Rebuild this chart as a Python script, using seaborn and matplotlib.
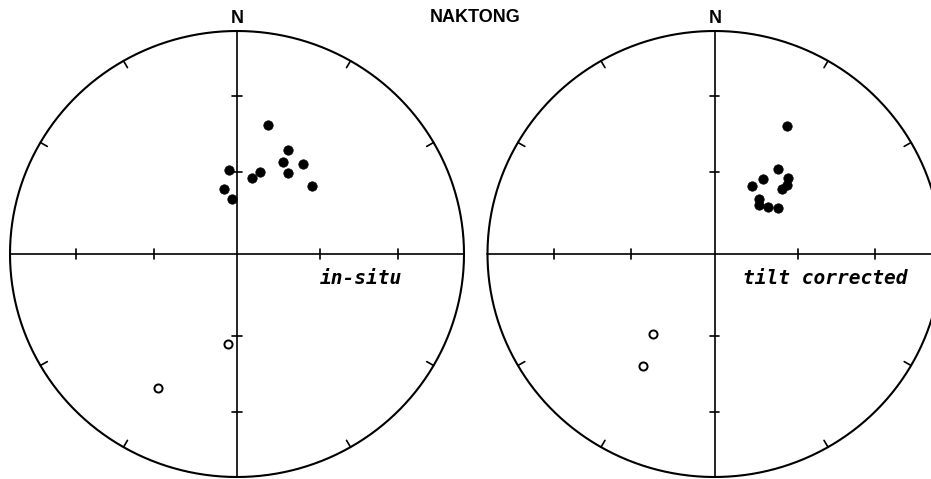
import numpy as np
import pandas as pd
import matplotlib
matplotlib.use("Agg")
import matplotlib.pyplot as plt
import seaborn as sns

# Palaeomagnetic site-mean directions, Naktong area
# declination (deg), inclination (deg); negative inclination = upper hemisphere
insitu_dec = [13.4, 25.6, 26.2, 35.6, 31.4, 47.1, 15.4, 10.8, 354.9, 348.9, 354.7, 185.4, 210.0]
insitu_inc = [40.4, 47.1, 52.0, 48.9, 54.8, 52.9, 58.8, 61.5, 58.8, 65.8, 69.8, -56.5, -31.2]

tilt_dec = [29.0, 36.2, 32.6, 43.5, 28.5, 45.8, 45.6, 38.4, 41.7, 48.2, 53.4, 216.9, 212.1]
tilt_inc = [34.8, 51.0, 57.2, 51.0, 61.8, 53.4, 56.0, 64.2, 66.0, 64.0, 61.4, -52.8, -40.6]

panel_labels = ["in-situ", "tilt corrected"]
title = "NAKTONG"
north_label = "N"

# inclination rings marked on the N-S and E-W diameters
ring_incs = [30, 60]


def equal_area(dec, inc):
    dec = np.radians(np.asarray(dec, float))
    inc = np.asarray(inc, float)
    r = np.sqrt(2.0) * np.sin(np.radians(90.0 - np.abs(inc)) / 2.0)
    return r * np.sin(dec), r * np.cos(dec)


def draw_net(ax):
    t = np.linspace(0, 2 * np.pi, 721)
    ax.plot(np.sin(t), np.cos(t), color="black", lw=1.5, solid_capstyle="round")
    ax.plot([-1, 1], [0, 0], color="black", lw=1.2)
    ax.plot([0, 0], [-1, 1], color="black", lw=1.2)
    # azimuth ticks every 30 degrees on the primitive
    for az in range(30, 360, 30):
        if az % 90 == 0:
            continue
        a = np.radians(az)
        ax.plot([0.965 * np.sin(a), np.sin(a)], [0.965 * np.cos(a), np.cos(a)],
                color="black", lw=1.2)
    # inclination ticks along the diameters
    h = 0.022
    for inc in ring_incs:
        r = np.sqrt(2.0) * np.sin(np.radians(90 - inc) / 2.0)
        for s in (-1, 1):
            ax.plot([s * r, s * r], [-h, h], color="black", lw=1.2)
            ax.plot([-h, h], [s * r, s * r], color="black", lw=1.2)


def draw_points(ax, dec, inc):
    x, y = equal_area(dec, inc)
    df = pd.DataFrame({"x": x, "y": y, "lower": np.asarray(inc) > 0})
    sns.scatterplot(data=df[df.lower], x="x", y="y", ax=ax, color="black",
                    s=46, edgecolor="black", linewidth=0.5, legend=False, zorder=3)
    sns.scatterplot(data=df[~df.lower], x="x", y="y", ax=ax, facecolor="white",
                    s=34, edgecolor="black", linewidth=1.4, legend=False, zorder=3)


sns.set_theme(style="white")
plt.rcParams["font.family"] = ["DejaVu Sans"]
plt.rcParams["text.color"] = "black"

W, H = 931, 479
fig = plt.figure(figsize=(W / 100, H / 100), dpi=100)
fig.patch.set_facecolor("white")

RX, RY = 227.0, 223.0
CY = 254.0
LIM = 1.1
centers = [237.0, 714.5]
datasets = [(insitu_dec, insitu_inc), (tilt_dec, tilt_inc)]
label_x = [320.0, 743.0]

for cx, (dec, inc), lab, lx in zip(centers, datasets, panel_labels, label_x):
    left = (cx - LIM * RX) / W
    bottom = ((H - CY) - LIM * RY) / H
    ax = fig.add_axes([left, bottom, 2 * LIM * RX / W, 2 * LIM * RY / H])
    ax.set_xlim(-LIM, LIM)
    ax.set_ylim(-LIM, LIM)
    ax.set_axis_off()
    ax.patch.set_alpha(0)
    draw_net(ax)
    draw_points(ax, dec, inc)
    ax.set_xlabel("")
    ax.set_ylabel("")
    fig.text(cx / W + 0.0005, 1 - 18.5 / H, north_label, ha="center", va="center",
             fontsize=13, fontweight="bold", color="black",
             family=["Liberation Sans", "DejaVu Sans"])
    fig.text(lx / W, 1 - 279.0 / H, lab, ha="left", va="center", fontsize=14,
             color="black", family=["DejaVu Sans Mono"], style="oblique",
             fontweight="bold")

fig.text(475 / W, 1 - 18.0 / H, title, ha="center", va="center", fontsize=13,
         fontweight="bold", color="black",
         family=["Liberation Sans Narrow", "Liberation Sans", "DejaVu Sans"])

fig.savefig("out.png", dpi=100, facecolor="white")
